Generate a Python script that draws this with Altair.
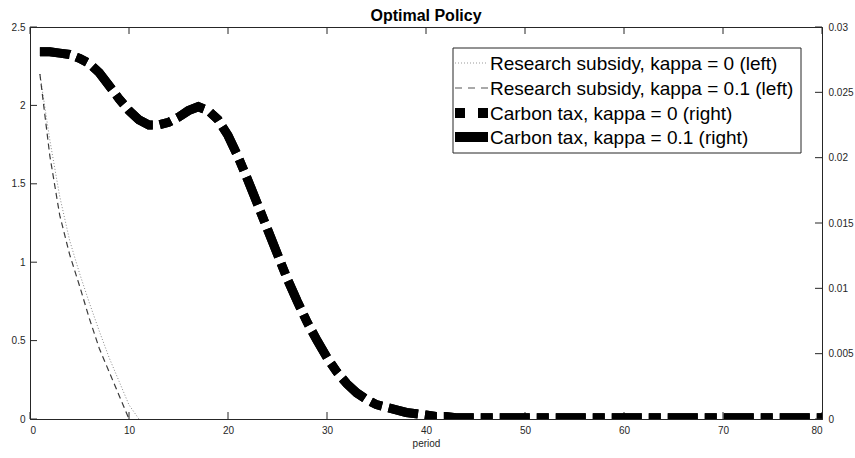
import altair as alt
import pandas as pd

# ---------------- data ----------------
periods_sub0 = list(range(1, 12))
sub_kappa0 = [2.20, 1.78, 1.42, 1.14, 0.93, 0.74, 0.56, 0.39, 0.24, 0.09, 0.0]
periods_sub1 = list(range(1, 11))
sub_kappa01 = [2.20, 1.68, 1.30, 1.05, 0.85, 0.64, 0.45, 0.30, 0.15, 0.0]

periods_tax = list(range(1, 81))
tax_kappa0 = [
    0.0281, 0.0281, 0.0280, 0.0279, 0.0276, 0.0272, 0.0265, 0.0255, 0.0245, 0.0236,
    0.0229, 0.0225, 0.0225, 0.0227, 0.0231, 0.0236, 0.0239, 0.0236, 0.0229, 0.0217,
    0.0201, 0.0183, 0.0164, 0.0145, 0.0126, 0.0107, 0.0090, 0.0074, 0.0060, 0.0047,
    0.0036, 0.0027, 0.0020, 0.0015, 0.0011, 0.0009, 0.0007, 0.0005, 0.0004, 0.0003,
    0.0002, 0.0002, 0.0001, 0.0001, 0.0001, 0.0001, 0.0001, 0.0001, 0.0001, 0.0001,
    0.0001, 0.0001, 0.0001, 0.0001, 0.0001, 0.0001, 0.0001, 0.0001, 0.0001, 0.0001,
    0.0001, 0.0001, 0.0001, 0.0001, 0.0001, 0.0001, 0.0001, 0.0001, 0.0001, 0.0001,
    0.0001, 0.0001, 0.0001, 0.0001, 0.0001, 0.0001, 0.0001, 0.0001, 0.0001, 0.0001,
]
tax_kappa01 = [
    0.0281, 0.0281, 0.0280, 0.0279, 0.0276, 0.0272, 0.0265, 0.0255, 0.0245, 0.0236,
    0.0229, 0.0225, 0.0225, 0.0227, 0.0231, 0.0236, 0.0239, 0.0236, 0.0229, 0.0217,
    0.0201, 0.0183, 0.0164, 0.0145, 0.0126, 0.0107, 0.0090, 0.0074, 0.0060, 0.0047,
    0.0036, 0.0027, 0.0020, 0.0015, 0.0011, 0.0009, 0.0007, 0.0005, 0.0004, 0.0003,
    0.0002, 0.0002, 0.0001, 0.0001, 0.0001, 0.0001, 0.0001, 0.0001, 0.0001, 0.0001,
    0.0001, 0.0001, 0.0001, 0.0001, 0.0001, 0.0001, 0.0001, 0.0001, 0.0001, 0.0001,
    0.0001, 0.0001, 0.0001, 0.0001, 0.0001, 0.0001, 0.0001, 0.0001, 0.0001, 0.0001,
    0.0001, 0.0001, 0.0001, 0.0001, 0.0001, 0.0001, 0.0001, 0.0001, 0.0001, 0.0001,
]

x_ticks = [0, 10, 20, 30, 40, 50, 60, 70, 80]
left_ticks = [0, 0.5, 1, 1.5, 2, 2.5]
right_ticks = [0, 0.005, 0.01, 0.015, 0.02, 0.025, 0.03]
legend_labels = [
    "Research subsidy, kappa = 0 (left)",
    "Research subsidy, kappa = 0.1 (left)",
    "Carbon tax, kappa = 0 (right)",
    "Carbon tax, kappa = 0.1 (right)",
]

# ---------------- layout / style ----------------
W, H = 792, 392
FONT = "Liberation Sans"
AX = "#262626"

df_s0 = pd.DataFrame({"period": periods_sub0, "value": sub_kappa0})
df_s1 = pd.DataFrame({"period": periods_sub1, "value": sub_kappa01})
df_t0 = pd.DataFrame({"period": periods_tax, "value": tax_kappa0})
df_t1 = pd.DataFrame({"period": periods_tax, "value": tax_kappa01})
df_xt = pd.DataFrame({"period": x_ticks})
df_lt = pd.DataFrame({"value": left_ticks})
df_rt = pd.DataFrame({"value": right_ticks})
one = pd.DataFrame({"a": [0]})

X = alt.X(
    "period:Q",
    scale=alt.Scale(domain=[0, 80], nice=False, zero=False),
    axis=alt.Axis(values=x_ticks, format="d", title="period", labelPadding=6,
                  titlePadding=3),
)
Y_left = alt.Y(
    "value:Q",
    scale=alt.Scale(domain=[0, 2.5], nice=False),
    axis=alt.Axis(values=left_ticks, format=".2~f", title=None, labelPadding=5),
)
Y_right = alt.Y(
    "value:Q",
    scale=alt.Scale(domain=[0, 0.03], nice=False),
    axis=alt.Axis(orient="right", values=right_ticks, format=".3~f", title=None,
                  labelPadding=6),
)

# left group
sub0 = alt.Chart(df_s0).mark_line(color="#8a8a8a", strokeWidth=1, strokeDash=[1, 2], clip=True).encode(x=X, y=Y_left)
sub1 = alt.Chart(df_s1).mark_line(color="#3a3a3a", strokeWidth=1.2, strokeDash=[6, 4], clip=True).encode(x=X, y=Y_left)
lticks = alt.Chart(df_lt).mark_rule(color=AX, strokeWidth=1).encode(
    y=Y_left, x=alt.value(0), x2=alt.value(7))
bticks = alt.Chart(df_xt).mark_rule(color=AX, strokeWidth=1).encode(
    x=X, y=alt.value(H), y2=alt.value(H - 7))
tticks = alt.Chart(df_xt).mark_rule(color=AX, strokeWidth=1).encode(
    x=X, y=alt.value(0), y2=alt.value(7))
left_group = alt.layer(sub0, sub1, lticks, bticks, tticks)

# right group
tax0 = alt.Chart(df_t0).mark_line(color="black", strokeWidth=9, strokeDash=[30, 7, 12, 7], clip=True).encode(x=X, y=Y_right)
tax1 = alt.Chart(df_t1).mark_line(color="black", strokeWidth=9, strokeDash=[30, 7, 12, 7], clip=True).encode(x=X, y=Y_right)
rticks = alt.Chart(df_rt).mark_rule(color=AX, strokeWidth=1).encode(
    y=Y_right, x=alt.value(W), x2=alt.value(W - 7))

# manual legend
LX0, LX1, LY0, LY1 = 423, 771, 21, 126
SX0, SX1, TX = 425, 458, 460
rows_y = [36, 61, 86, 110]
styles = [
    dict(color="#999999", strokeWidth=1, strokeDash=[1, 2]),
    dict(color="#555555", strokeWidth=1.2, strokeDash=[7, 6]),
    dict(color="black", strokeWidth=10, strokeDash=[10, 13]),
    dict(color="black", strokeWidth=10),
]
legend_layers = [
    alt.Chart(one).mark_rect(fill="white", stroke=AX, strokeWidth=1).encode(
        x=alt.value(LX0), x2=alt.value(LX1), y=alt.value(LY0), y2=alt.value(LY1))
]
for lab, yy, st in zip(legend_labels, rows_y, styles):
    legend_layers.append(
        alt.Chart(one).mark_rule(**st).encode(
            x=alt.value(SX0), x2=alt.value(SX1), y=alt.value(yy)))
    legend_layers.append(
        alt.Chart(one).mark_text(text=lab, font=FONT, fontSize=19, color="black",
                                 align="left", baseline="middle").encode(
            x=alt.value(TX), y=alt.value(yy + 1)))

right_group = alt.layer(tax0, tax1, rticks, *legend_layers)

chart = (
    alt.layer(left_group, right_group)
    .resolve_scale(y="independent")
    .properties(
        width=W,
        height=H,
        padding={"left": 30, "top": 27, "right": 33, "bottom": 39},
        autosize=alt.AutoSizeParams(type="none"),
        title=alt.TitleParams("Optimal Policy", font=FONT, fontSize=16, fontWeight="bold",
                              color="black", anchor="middle", offset=-2),
    )
    .configure_view(stroke=AX, strokeWidth=1)
    .configure_axis(
        labelFont=FONT, labelFontSize=10, labelColor=AX,
        domainColor=AX, domainWidth=1, ticks=False, tickSize=0, grid=False,
        titleFont=FONT, titleFontSize=10, titleFontWeight="normal", titleColor=AX,
    )
)

chart.save("out.html", embed_options={"renderer": "svg", "actions": False})
